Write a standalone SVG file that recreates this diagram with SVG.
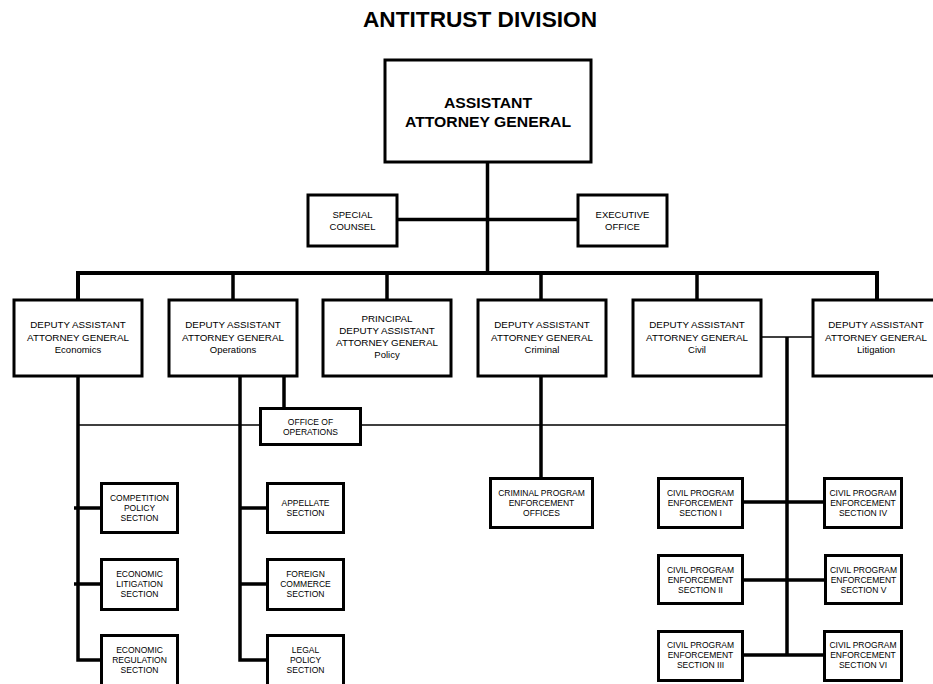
<svg xmlns="http://www.w3.org/2000/svg" width="933" height="684" viewBox="0 0 933 684">
<style>
.box{fill:#fff;stroke:#000;stroke-width:3}
.c{fill:none;stroke:#000;stroke-width:3.5;stroke-linejoin:miter}
.t{fill:none;stroke:#000;stroke-width:1.5}
text{font-family:"Liberation Sans",Arial,sans-serif;fill:#000;text-anchor:middle}
.h{font-size:9.8px}
.s{font-size:9.5px}
.m{font-size:9.5px}
.b{font-size:8.5px}
</style>
<rect width="933" height="684" fill="#fff"/>
<text x="480" y="27" style="font-size:21.5px;font-weight:bold" textLength="234" lengthAdjust="spacingAndGlyphs">ANTITRUST DIVISION</text>
<g id="connectors">
<path class="c" d="M487.5,162 V273"/>
<path class="c" d="M397,219.5 H578"/>
<path class="c" style="stroke-width:4" d="M78,300 V273 H877 V300"/>
<path class="c" d="M233,273 V300 M387,273 V300 M541,273 V300 M697,273 V300"/>
<path class="c" d="M78,377 V660 H101 M74,508 H101 M74,584 H101"/>
<path class="c" d="M240,377 V660 H267 M240,508 H267 M240,584 H267"/>
<path class="c" d="M284,377 V408"/>
<path class="t" d="M78,425 H260 M361,425 H787"/>
<path class="c" d="M541,377 V478"/>
<path class="t" d="M761,337 H813"/>
<path class="c" d="M787,337 V655 M743,502 H825 M743,580 H825 M743,655 H825"/>
</g>
<g id="aag"><rect class="box" x="385" y="60" width="206" height="102"/>
<text x="488" y="108" style="font-size:14px;font-weight:bold" textLength="88" lengthAdjust="spacingAndGlyphs">ASSISTANT</text>
<text x="488" y="127" style="font-size:14px;font-weight:bold" textLength="166" lengthAdjust="spacingAndGlyphs">ATTORNEY GENERAL</text></g>
<g id="special-counsel"><rect class="box" x="308" y="195" width="89" height="51"/>
<text class="m" x="352.5" y="217.5">SPECIAL</text><text class="m" x="352.5" y="229.5">COUNSEL</text></g>
<g id="executive-office"><rect class="box" x="578" y="195" width="89" height="51"/>
<text class="m" x="622.5" y="217.5">EXECUTIVE</text><text class="m" x="622.5" y="229.5">OFFICE</text></g>
<g id="daag-economics"><rect class="box" x="14" y="300" width="128" height="76"/>
<text class="h" x="78" y="328">DEPUTY ASSISTANT</text><text class="h" x="78" y="341">ATTORNEY GENERAL</text><text class="s" x="78" y="353">Economics</text></g>
<g id="daag-operations"><rect class="box" x="169" y="300" width="128" height="76"/>
<text class="h" x="233" y="328">DEPUTY ASSISTANT</text><text class="h" x="233" y="341">ATTORNEY GENERAL</text><text class="s" x="233" y="353">Operations</text></g>
<g id="pdaag-policy"><rect class="box" x="323" y="300" width="128" height="76"/>
<text class="h" x="387" y="322">PRINCIPAL</text><text class="h" x="387" y="334">DEPUTY ASSISTANT</text><text class="h" x="387" y="346">ATTORNEY GENERAL</text><text class="s" x="387" y="358">Policy</text></g>
<g id="daag-criminal"><rect class="box" x="478" y="300" width="128" height="76"/>
<text class="h" x="542" y="328">DEPUTY ASSISTANT</text><text class="h" x="542" y="341">ATTORNEY GENERAL</text><text class="s" x="542" y="353">Criminal</text></g>
<g id="daag-civil"><rect class="box" x="633" y="300" width="128" height="76"/>
<text class="h" x="697" y="328">DEPUTY ASSISTANT</text><text class="h" x="697" y="341">ATTORNEY GENERAL</text><text class="s" x="697" y="353">Civil</text></g>
<g id="daag-litigation"><rect class="box" x="813" y="300" width="128" height="76"/>
<text class="h" x="876" y="328">DEPUTY ASSISTANT</text><text class="h" x="876" y="341">ATTORNEY GENERAL</text><text class="s" x="876" y="353">Litigation</text></g>
<g id="office-of-operations"><rect class="box" x="260.5" y="408.5" width="100" height="36"/>
<text class="b" x="310.5" y="425">OFFICE OF</text><text class="b" x="310.5" y="435">OPERATIONS</text></g>
<g id="competition-policy"><rect class="box" x="101.5" y="483.5" width="76" height="49"/>
<text class="b" x="139.5" y="500.5">COMPETITION</text><text class="b" x="139.5" y="510.5">POLICY</text><text class="b" x="139.5" y="520.5">SECTION</text></g>
<g id="economic-litigation"><rect class="box" x="101.5" y="559.5" width="76" height="50"/>
<text class="b" x="139.5" y="577.3">ECONOMIC</text><text class="b" x="139.5" y="587.3">LITIGATION</text><text class="b" x="139.5" y="597.3">SECTION</text></g>
<g id="economic-regulation"><rect class="box" x="101.5" y="635.5" width="76" height="60"/>
<text class="b" x="139.5" y="653.3">ECONOMIC</text><text class="b" x="139.5" y="663.3">REGULATION</text><text class="b" x="139.5" y="673.3">SECTION</text></g>
<g id="appellate"><rect class="box" x="267.5" y="483.5" width="76" height="49"/>
<text class="b" x="305.5" y="506">APPELLATE</text><text class="b" x="305.5" y="516">SECTION</text></g>
<g id="foreign-commerce"><rect class="box" x="267.5" y="559.5" width="76" height="50"/>
<text class="b" x="305.5" y="577.3">FOREIGN</text><text class="b" x="305.5" y="587.3">COMMERCE</text><text class="b" x="305.5" y="597.3">SECTION</text></g>
<g id="legal-policy"><rect class="box" x="267.5" y="635.5" width="76" height="60"/>
<text class="b" x="305.5" y="653.3">LEGAL</text><text class="b" x="305.5" y="663.3">POLICY</text><text class="b" x="305.5" y="673.3">SECTION</text></g>
<g id="criminal-offices"><rect class="box" x="490.5" y="478.5" width="102" height="49"/>
<text class="b" x="541.5" y="496">CRIMINAL PROGRAM</text><text class="b" x="541.5" y="506">ENFORCEMENT</text><text class="b" x="541.5" y="516">OFFICES</text></g>
<g id="civil-1"><rect class="box" x="658.5" y="478.5" width="84" height="49"/>
<text class="b" x="700.5" y="496">CIVIL PROGRAM</text><text class="b" x="700.5" y="506">ENFORCEMENT</text><text class="b" x="700.5" y="516">SECTION I</text></g>
<g id="civil-2"><rect class="box" x="658.5" y="555.5" width="84" height="48"/>
<text class="b" x="700.5" y="572.7">CIVIL PROGRAM</text><text class="b" x="700.5" y="582.7">ENFORCEMENT</text><text class="b" x="700.5" y="592.7">SECTION II</text></g>
<g id="civil-3"><rect class="box" x="658.5" y="631.5" width="84" height="49"/>
<text class="b" x="700.5" y="648.3">CIVIL PROGRAM</text><text class="b" x="700.5" y="658.3">ENFORCEMENT</text><text class="b" x="700.5" y="668.3">SECTION III</text></g>
<g id="civil-4"><rect class="box" x="824.5" y="478.5" width="77" height="49"/>
<text class="b" x="863" y="496">CIVIL PROGRAM</text><text class="b" x="863" y="506">ENFORCEMENT</text><text class="b" x="863" y="516">SECTION IV</text></g>
<g id="civil-5"><rect class="box" x="825.5" y="555.5" width="76" height="48"/>
<text class="b" x="863.5" y="572.7">CIVIL PROGRAM</text><text class="b" x="863.5" y="582.7">ENFORCEMENT</text><text class="b" x="863.5" y="592.7">SECTION V</text></g>
<g id="civil-6"><rect class="box" x="824.5" y="631.5" width="77" height="49"/>
<text class="b" x="863" y="648.3">CIVIL PROGRAM</text><text class="b" x="863" y="658.3">ENFORCEMENT</text><text class="b" x="863" y="668.3">SECTION VI</text></g>
</svg>
